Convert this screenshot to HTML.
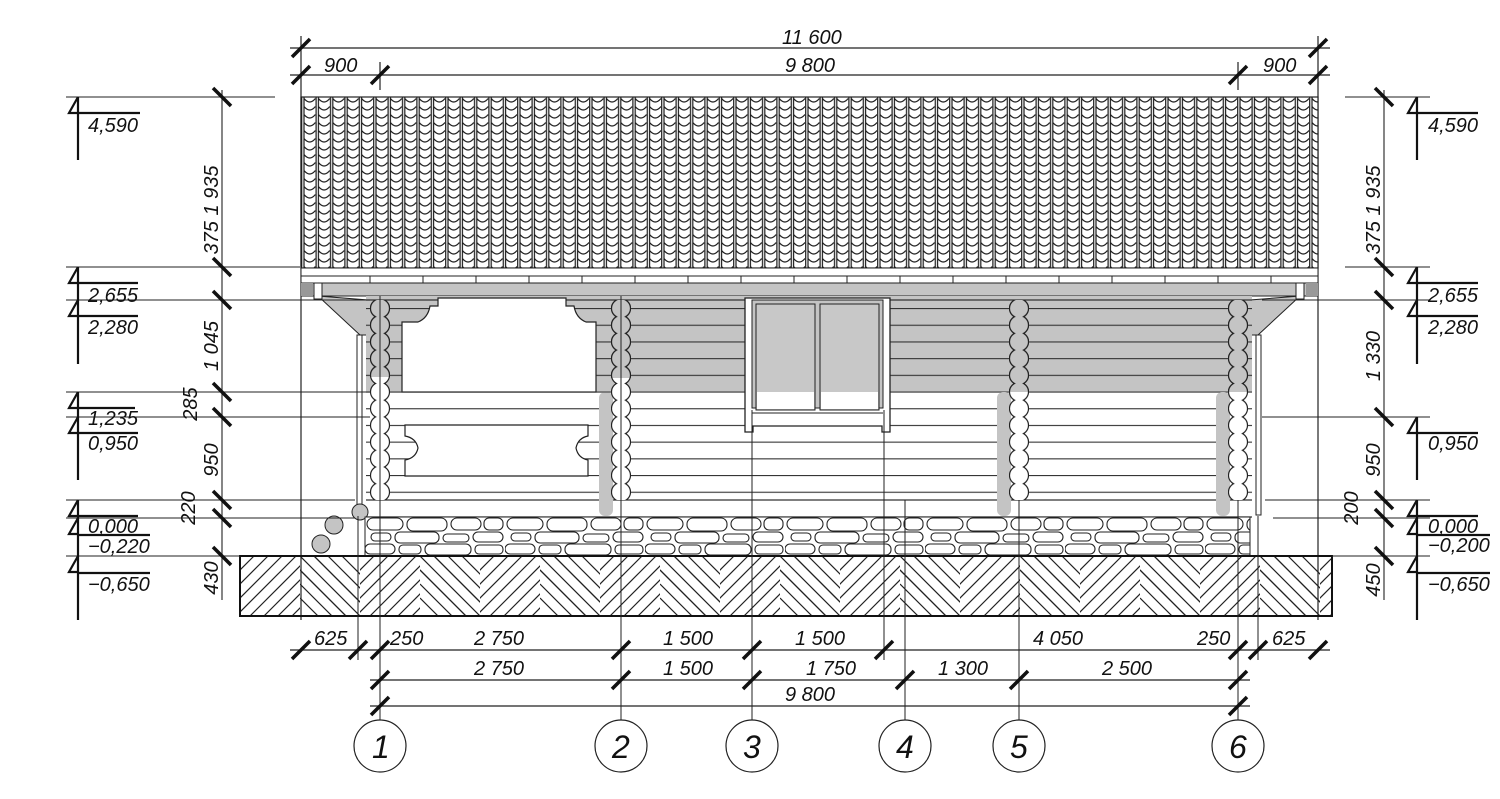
<!DOCTYPE html>
<html><head><meta charset="utf-8"><style>
html,body{margin:0;padding:0;background:#fff;}
svg{display:block;}
text{font-family:"Liberation Sans",sans-serif;font-style:italic;font-size:20px;fill:#111;}
</style></head><body>
<svg width="1500" height="799" viewBox="0 0 1500 799" xmlns="http://www.w3.org/2000/svg">
<defs>
<pattern id="roof" patternUnits="userSpaceOnUse" width="14.4" height="8" patternTransform="translate(301,97)">
<rect width="14.4" height="8" fill="#fff"/>
<path d="M0.7,0V8M3,0V8M3,1.5Q8.7,8.5 14.4,1.5" stroke="#1a1a1a" stroke-width="1.2" fill="none"/>
</pattern>
<pattern id="logs" patternUnits="userSpaceOnUse" width="20" height="16.7" patternTransform="translate(0,308)">
<line x1="0" y1="0.5" x2="20" y2="0.5" stroke="#333" stroke-width="1.2"/>
</pattern>
<pattern id="pw1" patternUnits="userSpaceOnUse" width="20" height="16.7" patternTransform="translate(370,300)"><circle cx="10" cy="8.35" r="9.5" fill="#fff" stroke="#222" stroke-width="1.2"/></pattern>
<pattern id="pg1" patternUnits="userSpaceOnUse" width="20" height="16.7" patternTransform="translate(370,300)"><circle cx="10" cy="8.35" r="9.5" fill="#c4c4c4" stroke="#222" stroke-width="1.2"/></pattern>
<pattern id="pw2" patternUnits="userSpaceOnUse" width="20" height="16.7" patternTransform="translate(611,300)"><circle cx="10" cy="8.35" r="9.5" fill="#fff" stroke="#222" stroke-width="1.2"/></pattern>
<pattern id="pg2" patternUnits="userSpaceOnUse" width="20" height="16.7" patternTransform="translate(611,300)"><circle cx="10" cy="8.35" r="9.5" fill="#c4c4c4" stroke="#222" stroke-width="1.2"/></pattern>
<pattern id="pw3" patternUnits="userSpaceOnUse" width="20" height="16.7" patternTransform="translate(1009,300)"><circle cx="10" cy="8.35" r="9.5" fill="#fff" stroke="#222" stroke-width="1.2"/></pattern>
<pattern id="pg3" patternUnits="userSpaceOnUse" width="20" height="16.7" patternTransform="translate(1009,300)"><circle cx="10" cy="8.35" r="9.5" fill="#c4c4c4" stroke="#222" stroke-width="1.2"/></pattern>
<pattern id="pw4" patternUnits="userSpaceOnUse" width="20" height="16.7" patternTransform="translate(1228,300)"><circle cx="10" cy="8.35" r="9.5" fill="#fff" stroke="#222" stroke-width="1.2"/></pattern>
<pattern id="pg4" patternUnits="userSpaceOnUse" width="20" height="16.7" patternTransform="translate(1228,300)"><circle cx="10" cy="8.35" r="9.5" fill="#c4c4c4" stroke="#222" stroke-width="1.2"/></pattern>
<clipPath id="hl"><rect x="0" y="0" width="60" height="60"/></clipPath>
<clipPath id="hr"><rect x="60" y="0" width="60" height="60"/></clipPath>
<pattern id="hatch" patternUnits="userSpaceOnUse" width="120" height="60" patternTransform="translate(240,556)">
<g clip-path="url(#hl)" stroke="#222" stroke-width="1.2">
<line x1="-60" y1="60" x2="0" y2="0"/><line x1="-46" y1="60" x2="14" y2="0"/><line x1="-32" y1="60" x2="28" y2="0"/><line x1="-18" y1="60" x2="42" y2="0"/><line x1="-4" y1="60" x2="56" y2="0"/><line x1="10" y1="60" x2="70" y2="0"/><line x1="24" y1="60" x2="84" y2="0"/><line x1="38" y1="60" x2="98" y2="0"/><line x1="52" y1="60" x2="112" y2="0"/>
</g>
<g clip-path="url(#hr)" stroke="#222" stroke-width="1.2">
<line x1="60" y1="0" x2="120" y2="60"/><line x1="60" y1="14" x2="120" y2="74"/><line x1="60" y1="28" x2="120" y2="88"/><line x1="60" y1="42" x2="120" y2="102"/><line x1="74" y1="0" x2="134" y2="60"/><line x1="88" y1="0" x2="148" y2="60"/><line x1="102" y1="0" x2="162" y2="60"/><line x1="46" y1="0" x2="106" y2="60"/><line x1="60" y1="-14" x2="120" y2="46"/>
</g>
</pattern>
<pattern id="stone" patternUnits="userSpaceOnUse" width="140" height="39" patternTransform="translate(365,517)">
<rect width="140" height="39" fill="#fff"/>
<g fill="#fff" stroke="#222" stroke-width="1.1">
<rect x="2" y="1" width="36" height="12" rx="6"/><rect x="42" y="1" width="40" height="13" rx="6"/><rect x="86" y="1" width="30" height="12" rx="6"/><rect x="119" y="1" width="19" height="12" rx="5"/>
<rect x="6" y="16" width="20" height="8" rx="4"/><rect x="30" y="15" width="44" height="11" rx="5"/><rect x="78" y="17" width="26" height="8" rx="4"/><rect x="108" y="15" width="30" height="10" rx="5"/>
<rect x="0" y="27" width="30" height="10" rx="5"/><rect x="34" y="28" width="22" height="9" rx="4"/><rect x="60" y="27" width="46" height="11" rx="5"/><rect x="110" y="28" width="28" height="9" rx="4"/>
</g>
</pattern>
</defs>

<!-- top dimensions -->
<g stroke="#222" stroke-width="1.2">
<line x1="290" y1="48" x2="1330" y2="48"/>
<line x1="290" y1="75" x2="1330" y2="75"/>
<line x1="301" y1="36" x2="301" y2="620"/>
<line x1="1318" y1="36" x2="1318" y2="620"/>
<line x1="380" y1="62" x2="380" y2="90"/>
<line x1="1238" y1="62" x2="1238" y2="90"/>
</g>
<g stroke="#111" stroke-width="3.5">
<line x1="292" y1="57" x2="310" y2="39"/><line x1="1309" y1="57" x2="1327" y2="39"/>
<line x1="292" y1="84" x2="310" y2="66"/><line x1="371" y1="84" x2="389" y2="66"/><line x1="1229" y1="84" x2="1247" y2="66"/><line x1="1309" y1="84" x2="1327" y2="66"/>
</g>
<text x="782" y="44">11 600</text>
<text x="324" y="72">900</text>
<text x="785" y="72">9 800</text>
<text x="1263" y="72">900</text>

<!-- roof -->
<rect x="301" y="97" width="1017" height="171" fill="url(#roof)" stroke="#222" stroke-width="1.2"/>
<rect x="301" y="268" width="1017" height="8" fill="#fff" stroke="#222" stroke-width="1"/>
<rect x="301" y="276" width="1017" height="7" fill="#fff" stroke="#222" stroke-width="1"/>
<rect x="301" y="283" width="1017" height="13" fill="#c4c4c4" stroke="#222" stroke-width="1"/>
<rect x="301" y="283" width="12" height="13" fill="#999"/>
<rect x="1306" y="283" width="12" height="13" fill="#999"/>
<g stroke="#222" stroke-width="1"><line x1="370" y1="276" x2="370" y2="283"/><line x1="423" y1="276" x2="423" y2="283"/><line x1="476" y1="276" x2="476" y2="283"/><line x1="529" y1="276" x2="529" y2="283"/><line x1="582" y1="276" x2="582" y2="283"/><line x1="635" y1="276" x2="635" y2="283"/><line x1="688" y1="276" x2="688" y2="283"/><line x1="741" y1="276" x2="741" y2="283"/><line x1="794" y1="276" x2="794" y2="283"/><line x1="847" y1="276" x2="847" y2="283"/><line x1="900" y1="276" x2="900" y2="283"/><line x1="953" y1="276" x2="953" y2="283"/><line x1="1006" y1="276" x2="1006" y2="283"/><line x1="1059" y1="276" x2="1059" y2="283"/><line x1="1112" y1="276" x2="1112" y2="283"/><line x1="1165" y1="276" x2="1165" y2="283"/><line x1="1218" y1="276" x2="1218" y2="283"/><line x1="1271" y1="276" x2="1271" y2="283"/></g>
<!-- soffits -->
<path d="M318,296 L360,335 L368,335 L368,300 Z" fill="#c4c4c4" stroke="#222"/>
<path d="M1300,296 L1258,335 L1250,335 L1250,300 Z" fill="#c4c4c4" stroke="#222"/>
<rect x="314" y="283" width="8" height="16" fill="#fff" stroke="#222"/>
<rect x="1296" y="283" width="8" height="16" fill="#fff" stroke="#222"/>

<!-- wall -->
<rect x="366" y="296" width="886" height="204" fill="#fff"/>
<rect x="366" y="296" width="886" height="96" fill="#c4c4c4"/>
<rect x="366" y="296" width="886" height="204" fill="url(#logs)"/>
<line x1="366" y1="300" x2="1252" y2="300" stroke="#333" stroke-width="1.2"/>
<line x1="366" y1="500" x2="1252" y2="500" stroke="#333" stroke-width="1.2"/>
<line x1="366" y1="517" x2="1252" y2="517" stroke="#333" stroke-width="1.2"/>
<!-- shadows near posts -->
<rect x="599" y="392" width="14" height="124" fill="#c4c4c4" rx="6"/>
<rect x="997" y="392" width="14" height="124" fill="#c4c4c4" rx="6"/>
<rect x="1216" y="392" width="14" height="124" fill="#c4c4c4" rx="6"/>
<!-- porch openings -->
<path d="M402,392 V322 H418 Q428,318 430,306 H438 V298 H566 V306 H574 Q576,318 586,322 H596 V392 Z" fill="#fff" stroke="#222" stroke-width="1.2"/>
<path d="M388,392 H610" stroke="#333"/>
<path d="M405,476 V460 Q416,458 418,448 Q416,438 405,436 V425 H588 V436 Q578,438 576,448 Q578,458 588,460 V476 Z" fill="#fff" stroke="#222" stroke-width="1.2"/>
<!-- window -->
<path d="M745,298 H890 V432 H882 V426 H753 V432 H745 Z" fill="#fff" stroke="#222" stroke-width="1.3"/>
<rect x="752" y="300" width="131" height="108" fill="#c4c4c4" stroke="#222"/>
<rect x="756" y="304" width="59" height="106" fill="#c8c8c8" stroke="#222"/>
<rect x="820" y="304" width="59" height="106" fill="#c8c8c8" stroke="#222"/>
<rect x="757" y="392" width="57" height="17" fill="#fff"/>
<rect x="821" y="392" width="57" height="17" fill="#fff"/>
<line x1="752" y1="413" x2="883" y2="413" stroke="#222"/>
<!-- posts -->
<rect x="370" y="300" width="20" height="200" fill="url(#pw1)"/>
<rect x="370" y="300" width="20" height="77" fill="url(#pg1)"/>
<rect x="611" y="300" width="20" height="200" fill="url(#pw2)"/>
<rect x="611" y="300" width="20" height="78" fill="url(#pg2)"/>
<rect x="1009" y="300" width="20" height="200" fill="url(#pw3)"/>
<rect x="1009" y="300" width="20" height="92" fill="url(#pg3)"/>
<rect x="1228" y="300" width="20" height="200" fill="url(#pw4)"/>
<rect x="1228" y="300" width="20" height="92" fill="url(#pg4)"/>
<!-- downpipes -->
<rect x="357" y="335" width="5" height="180" fill="#fff" stroke="#222"/>
<rect x="1256" y="335" width="5" height="180" fill="#fff" stroke="#222"/>
<circle cx="360" cy="512" r="8" fill="#c4c4c4" stroke="#222"/>
<circle cx="334" cy="525" r="9" fill="#c4c4c4" stroke="#222"/>
<circle cx="321" cy="544" r="9" fill="#c4c4c4" stroke="#222"/>
<!-- stone base -->
<rect x="365" y="517" width="885" height="39" fill="url(#stone)" stroke="#222"/>
<!-- ground -->
<rect x="240" y="556" width="1092" height="60" fill="url(#hatch)" stroke="#111" stroke-width="2"/>

<!-- axis lines -->
<g stroke="#222" stroke-width="1">
<line x1="380" y1="296" x2="380" y2="720"/>
<line x1="621" y1="296" x2="621" y2="720"/>
<line x1="752" y1="410" x2="752" y2="720"/>
<line x1="884" y1="410" x2="884" y2="660"/>
<line x1="905" y1="500" x2="905" y2="720"/>
<line x1="1019" y1="500" x2="1019" y2="720"/>
<line x1="1238" y1="500" x2="1238" y2="720"/>
<line x1="358" y1="516" x2="358" y2="660"/>
<line x1="1258" y1="516" x2="1258" y2="660"/>
</g>

<!-- bottom dims -->
<g stroke="#222" stroke-width="1.2">
<line x1="290" y1="650" x2="1330" y2="650"/>
<line x1="370" y1="680" x2="1250" y2="680"/>
<line x1="370" y1="706" x2="1250" y2="706"/>
</g>
<g stroke="#111" stroke-width="3.5">
<line x1="292" y1="659" x2="310" y2="641"/><line x1="349" y1="659" x2="367" y2="641"/><line x1="371" y1="659" x2="389" y2="641"/><line x1="612" y1="659" x2="630" y2="641"/><line x1="743" y1="659" x2="761" y2="641"/><line x1="875" y1="659" x2="893" y2="641"/><line x1="1229" y1="659" x2="1247" y2="641"/><line x1="1249" y1="659" x2="1267" y2="641"/><line x1="1309" y1="659" x2="1327" y2="641"/>
<line x1="371" y1="689" x2="389" y2="671"/><line x1="612" y1="689" x2="630" y2="671"/><line x1="743" y1="689" x2="761" y2="671"/><line x1="896" y1="689" x2="914" y2="671"/><line x1="1010" y1="689" x2="1028" y2="671"/><line x1="1229" y1="689" x2="1247" y2="671"/>
<line x1="371" y1="715" x2="389" y2="697"/><line x1="1229" y1="715" x2="1247" y2="697"/>
</g>
<text x="314" y="645">625</text><text x="390" y="645">250</text><text x="474" y="645">2 750</text><text x="663" y="645">1 500</text><text x="795" y="645">1 500</text><text x="1033" y="645">4 050</text><text x="1197" y="645">250</text><text x="1272" y="645">625</text>
<text x="474" y="675">2 750</text><text x="663" y="675">1 500</text><text x="806" y="675">1 750</text><text x="938" y="675">1 300</text><text x="1102" y="675">2 500</text>
<text x="785" y="701">9 800</text>
<g fill="#fff" stroke="#222" stroke-width="1.2">
<circle cx="380" cy="746" r="26"/><circle cx="621" cy="746" r="26"/><circle cx="752" cy="746" r="26"/><circle cx="905" cy="746" r="26"/><circle cx="1019" cy="746" r="26"/><circle cx="1238" cy="746" r="26"/>
</g>
<text x="372" y="758" style="font-size:32px">1</text><text x="612" y="758" style="font-size:32px">2</text><text x="743" y="758" style="font-size:32px">3</text><text x="896" y="758" style="font-size:32px">4</text><text x="1010" y="758" style="font-size:32px">5</text><text x="1229" y="758" style="font-size:32px">6</text>

<!-- left/right vertical dims & levels -->
<g stroke="#222" stroke-width="1.1">
<line x1="222" y1="90" x2="222" y2="600"/>
<line x1="66" y1="97" x2="275" y2="97"/>
<line x1="66" y1="267" x2="300" y2="267"/>
<line x1="66" y1="300" x2="370" y2="300"/>
<line x1="66" y1="392" x2="370" y2="392"/>
<line x1="66" y1="417" x2="370" y2="417"/>
<line x1="66" y1="500" x2="355" y2="500"/>
<line x1="66" y1="518" x2="355" y2="518"/>
<line x1="66" y1="556" x2="240" y2="556"/>
<line x1="1345" y1="97" x2="1430" y2="97"/>
<line x1="1345" y1="267" x2="1430" y2="267"/>
<line x1="1262" y1="300" x2="1430" y2="300"/>
<line x1="1262" y1="417" x2="1430" y2="417"/>
<line x1="1265" y1="500" x2="1430" y2="500"/>
<line x1="1273" y1="518" x2="1430" y2="518"/>
<line x1="1332" y1="556" x2="1430" y2="556"/>
<line x1="1384" y1="90" x2="1384" y2="600"/>
</g>
<g stroke="#111" stroke-width="3.5">
<line x1="213" y1="88" x2="231" y2="106"/><line x1="213" y1="258" x2="231" y2="276"/><line x1="213" y1="291" x2="231" y2="309"/><line x1="213" y1="383" x2="231" y2="401"/><line x1="213" y1="408" x2="231" y2="426"/><line x1="213" y1="491" x2="231" y2="509"/><line x1="213" y1="509" x2="231" y2="527"/><line x1="213" y1="547" x2="231" y2="565"/>
<line x1="1375" y1="88" x2="1393" y2="106"/><line x1="1375" y1="258" x2="1393" y2="276"/><line x1="1375" y1="291" x2="1393" y2="309"/><line x1="1375" y1="408" x2="1393" y2="426"/><line x1="1375" y1="491" x2="1393" y2="509"/><line x1="1375" y1="509" x2="1393" y2="527"/><line x1="1375" y1="547" x2="1393" y2="565"/>
</g>
<g stroke="#111" stroke-width="2.2" fill="none">
<path d="M78,97V160 M78,267V364 M78,392V480 M78,500V620"/>
<path d="M78,97L69,113H78 M78,267L69,283H78 M78,300L69,316H78 M78,392L69,408H78 M78,417L69,433H78 M78,500L69,516H78 M78,518L69,534H78 M78,556L69,572H78"/>
<path d="M78,113H140 M78,283H138 M78,316H138 M78,408H135 M78,433H138 M78,516H138 M78,535H150 M78,573H150"/>
<path d="M1417,97V160 M1417,267V364 M1417,417V480 M1417,500V620"/>
<path d="M1417,97L1408,113H1417 M1417,267L1408,283H1417 M1417,300L1408,316H1417 M1417,417L1408,433H1417 M1417,500L1408,516H1417 M1417,518L1408,534H1417 M1417,556L1408,572H1417"/>
<path d="M1417,113H1478 M1417,283H1478 M1417,316H1478 M1417,433H1478 M1417,516H1478 M1417,535H1490 M1417,573H1490"/>
</g>
<text x="88" y="132">4,590</text><text x="88" y="302">2,655</text><text x="88" y="334">2,280</text><text x="88" y="425">1,235</text><text x="88" y="450">0,950</text><text x="88" y="533">0,000</text><text x="88" y="553">−0,220</text><text x="88" y="591">−0,650</text>
<text x="1428" y="132">4,590</text><text x="1428" y="302">2,655</text><text x="1428" y="334">2,280</text><text x="1428" y="450">0,950</text><text x="1428" y="533">0,000</text><text x="1428" y="552">−0,200</text><text x="1428" y="591">−0,650</text>
<text transform="translate(218,210) rotate(-90)" text-anchor="middle">375  1 935</text>
<text transform="translate(218,346) rotate(-90)" text-anchor="middle">1 045</text>
<text transform="translate(197,404) rotate(-90)" text-anchor="middle">285</text>
<text transform="translate(218,460) rotate(-90)" text-anchor="middle">950</text>
<text transform="translate(195,508) rotate(-90)" text-anchor="middle">220</text>
<text transform="translate(218,578) rotate(-90)" text-anchor="middle">430</text>
<text transform="translate(1380,210) rotate(-90)" text-anchor="middle">375  1 935</text>
<text transform="translate(1380,356) rotate(-90)" text-anchor="middle">1 330</text>
<text transform="translate(1380,460) rotate(-90)" text-anchor="middle">950</text>
<text transform="translate(1358,508) rotate(-90)" text-anchor="middle">200</text>
<text transform="translate(1380,580) rotate(-90)" text-anchor="middle">450</text>
</svg>
</body></html>
